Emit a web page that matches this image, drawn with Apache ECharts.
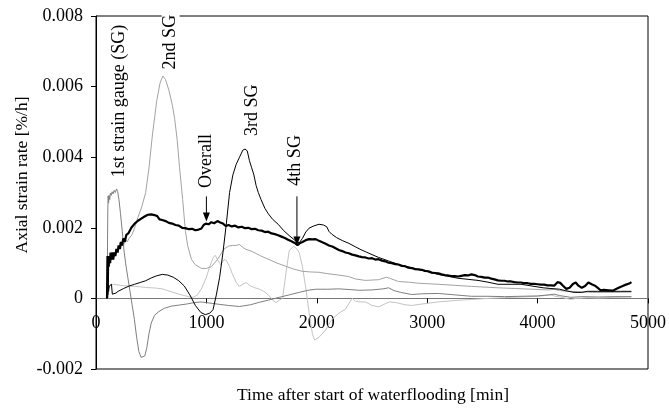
<!DOCTYPE html>
<html>
<head>
<meta charset="utf-8">
<script src="https://cdn.jsdelivr.net/npm/echarts@6/dist/echarts.min.js"></script>
<style>
  html, body { margin: 0; padding: 0; background: #fff; }
  #chart { width: 669px; height: 414px; }
</style>
</head>
<body>
<div id="chart"></div>
<script>
// Axial strain rate [%/h] versus time after start of waterflooding [min]
const xTicks = [0, 1000, 2000, 3000, 4000, 5000];
const yTicks = [-0.002, 0, 0.002, 0.004, 0.006, 0.008];

// Overall specimen strain rate (thick black)
const overall = [
  [100, 0], [104, 0.0012], [107, 0.0003], [110, 0.0012], [115, 0.0009], [120, 0.0012], [126, 0.0010],
  [132, 0.0013], [140, 0.0011], [148, 0.0013], [156, 0.0011], [165, 0.0013], [175, 0.0012], [185, 0.0014],
  [195, 0.0013], [205, 0.0015], [215, 0.0014], [225, 0.0016], [235, 0.0015], [248, 0.0017], [260, 0.0016],
  [275, 0.0018], [295, 0.00185], [320, 0.0020], [350, 0.00212], [380, 0.0022], [410, 0.00226], [440, 0.00232],
  [470, 0.00237], [500, 0.00238], [530, 0.00236], [555, 0.00233], [575, 0.00224], [600, 0.00222], [630, 0.00219],
  [660, 0.00214], [690, 0.00212], [720, 0.00208], [750, 0.00206], [780, 0.00200], [810, 0.00199], [840, 0.00196],
  [870, 0.00197], [900, 0.00193], [930, 0.00195], [955, 0.00198], [975, 0.00208], [995, 0.00212], [1020, 0.00210],
  [1045, 0.00216], [1070, 0.00213], [1100, 0.00219], [1125, 0.00215], [1150, 0.00212], [1175, 0.00205],
  [1200, 0.00208], [1230, 0.00204], [1260, 0.00206], [1290, 0.00201], [1320, 0.00203], [1350, 0.00199],
  [1380, 0.00200], [1410, 0.00196], [1440, 0.00197], [1470, 0.00193], [1500, 0.00192], [1530, 0.00188],
  [1560, 0.00189], [1590, 0.00184], [1620, 0.00182], [1650, 0.00179], [1680, 0.00175], [1710, 0.00171],
  [1740, 0.00166], [1770, 0.00162], [1800, 0.00157], [1825, 0.00151], [1845, 0.00156], [1870, 0.00160],
  [1900, 0.00165], [1930, 0.00168], [1960, 0.00167], [1990, 0.00168], [2020, 0.00163], [2050, 0.00159],
  [2080, 0.00155], [2110, 0.00150], [2140, 0.00147], [2170, 0.00142], [2200, 0.00137], [2230, 0.00134],
  [2260, 0.00130], [2290, 0.00128], [2320, 0.00124], [2350, 0.00122], [2380, 0.00119], [2410, 0.00117],
  [2440, 0.00116], [2470, 0.00113], [2500, 0.00114], [2530, 0.00110], [2560, 0.00111], [2590, 0.00107],
  [2620, 0.00105], [2650, 0.00101], [2680, 0.00100], [2710, 0.00097], [2740, 0.00096], [2770, 0.00092],
  [2800, 0.00091], [2830, 0.00087], [2860, 0.00086], [2890, 0.00083], [2920, 0.00082], [2950, 0.00081],
  [2980, 0.00078], [3010, 0.00077], [3040, 0.00073], [3070, 0.00072], [3100, 0.00071], [3130, 0.00068],
  [3160, 0.00066], [3190, 0.00065], [3220, 0.00063], [3250, 0.00063], [3280, 0.00062], [3310, 0.00064],
  [3340, 0.00066], [3370, 0.00065], [3400, 0.00068], [3430, 0.00066], [3460, 0.00062], [3490, 0.00061],
  [3520, 0.00059], [3550, 0.00059], [3580, 0.00056], [3610, 0.00054], [3640, 0.00051], [3670, 0.00050],
  [3700, 0.00050], [3730, 0.00048], [3760, 0.00048], [3790, 0.00046], [3820, 0.00045], [3850, 0.00045],
  [3880, 0.00043], [3910, 0.00043], [3940, 0.00041], [3970, 0.00041], [4000, 0.00040], [4030, 0.00039],
  [4060, 0.00039], [4090, 0.00037], [4120, 0.00037], [4150, 0.00036], [4180, 0.00046], [4205, 0.00044],
  [4230, 0.00036], [4260, 0.00027], [4290, 0.00030], [4320, 0.00041], [4345, 0.00045], [4370, 0.00036],
  [4400, 0.00030], [4430, 0.00035], [4460, 0.00045], [4490, 0.00040], [4520, 0.00036], [4545, 0.00030],
  [4570, 0.00023], [4600, 0.00024], [4640, 0.00023], [4680, 0.00022], [4720, 0.00028], [4760, 0.00034],
  [4800, 0.00039], [4830, 0.00042], [4850, 0.00046]
];

// 1st strain gauge (medium grey)
const sg1 = [
  [100, 0], [103, 0.0008], [105, 0.0018], [107, 0.0025], [110, 0.0029], [114, 0.0027], [118, 0.00292],
  [124, 0.0028], [130, 0.00298], [138, 0.00292], [146, 0.00302], [155, 0.00296], [165, 0.00306],
  [175, 0.00300], [186, 0.00310], [196, 0.00303], [208, 0.0028], [222, 0.0024], [238, 0.0019],
  [252, 0.0014], [268, 0.0010], [288, 0.0006], [308, 0.0002], [328, -0.0002], [348, -0.0006],
  [368, -0.0011], [388, -0.0015], [408, -0.00167], [425, -0.0017], [442, -0.00163], [460, -0.0014],
  [480, -0.0010], [500, -0.0007], [530, -0.00048], [570, -0.00037], [620, -0.00028], [680, -0.00022],
  [750, -0.00019], [820, -0.00016], [890, -0.00012], [950, -0.00010], [1000, -0.00012], [1050, -0.00014],
  [1120, -0.00017], [1200, -0.00020], [1300, -0.00023], [1400, -0.00018], [1480, -0.00011],
  [1560, -0.00005], [1660, 0.00003], [1750, 0.00010], [1840, 0.00017], [1920, 0.00023], [1990, 0.00026],
  [2100, 0.00026], [2200, 0.00027], [2300, 0.00025], [2380, 0.00023], [2500, 0.00024], [2600, 0.00027],
  [2650, 0.00030], [2700, 0.00022], [2760, 0.00017], [2860, 0.00011], [2950, 0.00013], [3100, 0.00014],
  [3250, 0.00010], [3400, 0.00006], [3550, 0.00006], [3700, 0.00005], [3850, 0.00006], [4000, 0.00007],
  [4100, 0.00010], [4150, 0.00012], [4200, 0.00008], [4300, 0.00003], [4400, 0.00005], [4550, 0.00004],
  [4700, 0.00005], [4850, 0.00005]
];

// 2nd strain gauge (light grey)
const sg2 = [
  [100, 0], [104, 0.0009], [108, 0.0007], [113, 0.0010], [120, 0.0009], [128, 0.0011], [136, 0.0010],
  [145, 0.0012], [155, 0.0011], [165, 0.0013], [177, 0.0012], [188, 0.0014], [200, 0.0013], [212, 0.0015],
  [224, 0.0014], [236, 0.0016], [250, 0.0015], [265, 0.0017], [282, 0.0016], [300, 0.0017], [325, 0.0018],
  [350, 0.0020], [380, 0.0023], [415, 0.0026], [450, 0.0030], [480, 0.0037], [510, 0.0046], [550, 0.0056],
  [580, 0.0061], [605, 0.0063], [630, 0.0062], [660, 0.0059], [690, 0.0055], [712, 0.0051], [735, 0.0045],
  [757, 0.0037], [785, 0.0028], [810, 0.0019], [830, 0.0015], [865, 0.0011], [900, 0.00095], [955, 0.00085],
  [1000, 0.00085], [1045, 0.00090], [1100, 0.0011], [1160, 0.0014], [1200, 0.00148], [1234, 0.0015],
  [1270, 0.0015], [1297, 0.00153], [1350, 0.0014], [1414, 0.00133], [1480, 0.00122], [1568, 0.0011],
  [1640, 0.0010], [1720, 0.00091], [1790, 0.00083], [1865, 0.00077], [1940, 0.00075], [2018, 0.00074],
  [2100, 0.00070], [2200, 0.00066], [2288, 0.00062], [2350, 0.00055], [2440, 0.00051], [2560, 0.00053],
  [2630, 0.00060], [2660, 0.00057], [2739, 0.00048], [2830, 0.00046], [2920, 0.00043], [3100, 0.00040],
  [3250, 0.00037], [3400, 0.00034], [3640, 0.00030], [3800, 0.00028], [3950, 0.00026], [4100, 0.00024],
  [4150, 0.00026], [4200, 0.00022], [4300, 0.00020], [4500, 0.00017], [4700, 0.00017], [4850, 0.00018]
];

// 3rd strain gauge (thin black)
const sg3 = [
  [100, 0], [104, 0.0005], [107, 0.0001], [111, 0.0004], [114, 0.0002], [120, 0.00035], [130, 0.00038],
  [140, 0.00040], [148, 0.00012], [165, 0.00010], [180, 0.00015], [200, 0.00020], [250, 0.00028],
  [300, 0.00035], [350, 0.00040], [400, 0.00045], [450, 0.00050], [500, 0.00058], [550, 0.00064],
  [600, 0.00068], [650, 0.00066], [700, 0.00060], [750, 0.00050], [800, 0.00035], [850, 0.00010],
  [900, -0.00020], [950, -0.00040], [990, -0.00046], [1030, -0.00042], [1060, -0.00032], [1090, 0.00010],
  [1120, 0.00060], [1150, 0.00130], [1180, 0.00210], [1210, 0.00300], [1240, 0.00350], [1270, 0.00380],
  [1300, 0.00400], [1330, 0.00420], [1350, 0.00423], [1370, 0.00418], [1390, 0.00390], [1410, 0.00370],
  [1430, 0.00350], [1450, 0.00320], [1470, 0.00300], [1495, 0.00280], [1530, 0.00255], [1560, 0.00240],
  [1600, 0.00224], [1650, 0.00210], [1700, 0.00192], [1750, 0.00178], [1800, 0.00165], [1840, 0.00157],
  [1870, 0.00170], [1900, 0.00188], [1930, 0.00199], [1970, 0.00205], [2020, 0.00210], [2060, 0.00208],
  [2090, 0.00203], [2110, 0.00190], [2135, 0.00182], [2180, 0.00172], [2230, 0.00164], [2290, 0.00156],
  [2350, 0.00146], [2400, 0.00138], [2450, 0.00131], [2500, 0.00124], [2560, 0.00116], [2650, 0.00106],
  [2740, 0.00096], [2830, 0.00089], [2920, 0.00082], [3000, 0.00076], [3100, 0.00068], [3200, 0.00062],
  [3280, 0.00057], [3370, 0.00054], [3460, 0.00051], [3550, 0.00046], [3640, 0.00040], [3750, 0.00040],
  [3850, 0.00040], [3950, 0.00035], [4050, 0.00030], [4120, 0.00028], [4200, 0.00026], [4250, 0.00022],
  [4330, 0.00017], [4400, 0.00017], [4450, 0.00020], [4540, 0.00020], [4650, 0.00020], [4750, 0.00020],
  [4850, 0.00020]
];

// 4th strain gauge (lightest grey)
const sg4 = [
  [110, 0], [115, 0.00030], [130, 0.00038], [160, 0.00040], [200, 0.00038], [250, 0.00036], [300, 0.00035],
  [350, 0.00034], [400, 0.00033], [450, 0.00031], [500, 0.00030], [550, 0.00029], [600, 0.00027],
  [650, 0.00022], [700, 0.00017], [750, 0.00012], [800, 0.00008], [850, 0.00004], [880, 0.00003],
  [920, 0.00010], [960, 0.00030], [1000, 0.00060], [1030, 0.00090], [1060, 0.00115], [1080, 0.00122],
  [1100, 0.00110], [1130, 0.00095], [1160, 0.00110], [1180, 0.00108], [1210, 0.00090], [1234, 0.00070],
  [1270, 0.00045], [1297, 0.00034], [1330, 0.00040], [1360, 0.00045], [1400, 0.00035], [1440, 0.00030],
  [1480, 0.00026], [1520, 0.00020], [1560, 0.00010], [1600, -0.00005], [1630, -0.00012], [1660, -0.00005],
  [1690, 0.00000], [1720, 0.00070], [1750, 0.00135], [1790, 0.00148], [1820, 0.00140], [1840, 0.00130],
  [1870, 0.00090], [1900, 0.00030], [1930, -0.00040], [1960, -0.00100], [1980, -0.00118], [2020, -0.00110],
  [2080, -0.00090], [2135, -0.00060], [2200, -0.00042], [2261, -0.00030], [2300, -0.00010], [2320, 0.00000],
  [2350, -0.00008], [2380, -0.00010], [2440, -0.00010], [2500, -0.00020], [2560, -0.00024], [2620, -0.00015],
  [2660, -0.00010], [2720, -0.00012], [2800, -0.00018], [2860, -0.00020], [2950, -0.00016], [3100, -0.00010],
  [3250, -0.00006], [3400, -0.00003], [3550, 0.00000], [3700, 0.00002], [3850, 0.00004], [4000, 0.00006],
  [4120, 0.00010], [4160, 0.00006], [4220, 0.00003], [4300, -0.00003], [4350, 0.00000], [4450, 0.00002],
  [4550, 0.00001], [4700, 0.00003], [4850, 0.00004]
];

// Curve labels (anchor in data units) and pointer arrows
const labelTexts = ['1st strain gauge (SG)', '2nd SG', 'Overall', '3rd SG', '4th SG'];
const labelAnchors = [[207, 0.00559], [676, 0.00726], [1000, 0.00389], [1414, 0.00533], [1802, 0.00391]];
const arrowTimes = [1000, 1820];
const arrowFrom = [0.00289, 0.00289];
const arrowTo = [0.00218, 0.00150];

const FONT = '"Liberation Serif", "Times New Roman", serif';

const GRID = { left: 96, right: 18, top: 16, bottom: 45 };
const plotH = 414 - GRID.top - GRID.bottom;
// time axis sits on the zero strain-rate line
const zeroOffset = -plotH * (0 - yTicks[0]) / (yTicks[yTicks.length - 1] - yTicks[0]);

const chart = echarts.init(document.getElementById('chart'), null, { renderer: 'canvas' });

function lineSeries(name, data, color, width, z) {
  return {
    name, type: 'line', data, showSymbol: false, symbol: 'none', z,
    lineStyle: { color, width }, animation: false
  };
}

chart.setOption({
  animation: false,
  backgroundColor: '#fff',
  grid: Object.assign({ show: true, borderColor: '#000', borderWidth: 1, backgroundColor: 'transparent' }, GRID),
  xAxis: {
    type: 'value', min: xTicks[0], max: xTicks[xTicks.length - 1], interval: 1000,
    position: 'bottom', offset: zeroOffset,
    axisLine: { onZero: false, lineStyle: { color: '#777', width: 1 } },
    axisTick: { show: true, length: 5, lineStyle: { color: '#000' } },
    axisLabel: { margin: 16, color: '#000', fontFamily: FONT, fontSize: 18, formatter: v => String(v) },
    splitLine: { show: false }
  },
  yAxis: {
    type: 'value', min: yTicks[0], max: yTicks[yTicks.length - 1], interval: 0.002,
    axisLine: { show: true, onZero: false, lineStyle: { color: '#000', width: 1 } },
    axisTick: { show: true, length: 5, lineStyle: { color: '#000' } },
    axisLabel: {
      margin: 13, color: '#000', fontFamily: FONT, fontSize: 18,
      formatter: v => (Math.abs(v) < 1e-12 ? '0' : v.toFixed(3))
    },
    splitLine: { show: false }
  },
  series: [
    lineSeries('4th SG', sg4, '#c4c4c4', 1, 2),
    lineSeries('2nd SG', sg2, '#a3a3a3', 1, 3),
    lineSeries('1st SG', sg1, '#7f7f7f', 1, 4),
    lineSeries('3rd SG', sg3, '#000', 1, 5),
    lineSeries('Overall', overall, '#000', 2.2, 6)
  ]
});

// Annotation texts, pointer arrows and axis titles
const g = [];
labelTexts.forEach((txt, i) => {
  const p = chart.convertToPixel({ gridIndex: 0 }, labelAnchors[i]);
  const st = {
    text: txt, fill: '#000', font: '18px ' + FONT,
    align: 'center', verticalAlign: 'middle', textAlign: 'center', textVerticalAlign: 'middle'
  };
  if (i === 1) { st.backgroundColor = '#fff'; st.padding = [0, 3, 0, 3]; }
  g.push({ type: 'text', x: p[0], y: p[1], rotation: Math.PI / 2, z: 100, style: st });
});
arrowTimes.forEach((t, i) => {
  const a = chart.convertToPixel({ gridIndex: 0 }, [t, arrowFrom[i]]);
  const b = chart.convertToPixel({ gridIndex: 0 }, [t, arrowTo[i]]);
  g.push({ type: 'line', z: 100, shape: { x1: a[0], y1: a[1], x2: b[0], y2: b[1] - 7 }, style: { stroke: '#000', lineWidth: 1 } });
  g.push({ type: 'polygon', z: 100, shape: { points: [[b[0] - 3.5, b[1] - 9], [b[0] + 3.5, b[1] - 9], [b[0], b[1]]] }, style: { fill: '#000' } });
});
g.push({
  type: 'text', x: 22, y: 175, rotation: Math.PI / 2, z: 100,
  style: { text: 'Axial strain rate [%/h]', fill: '#000', font: '17.5px ' + FONT, align: 'center', verticalAlign: 'middle', textAlign: 'center', textVerticalAlign: 'middle' }
});
g.push({
  type: 'text', x: 373, y: 395, z: 100,
  style: { text: 'Time after start of waterflooding [min]', fill: '#000', font: '17.5px ' + FONT, align: 'center', verticalAlign: 'middle', textAlign: 'center', textVerticalAlign: 'middle' }
});
chart.setOption({ graphic: { elements: g } });
</script>
</body>
</html>
